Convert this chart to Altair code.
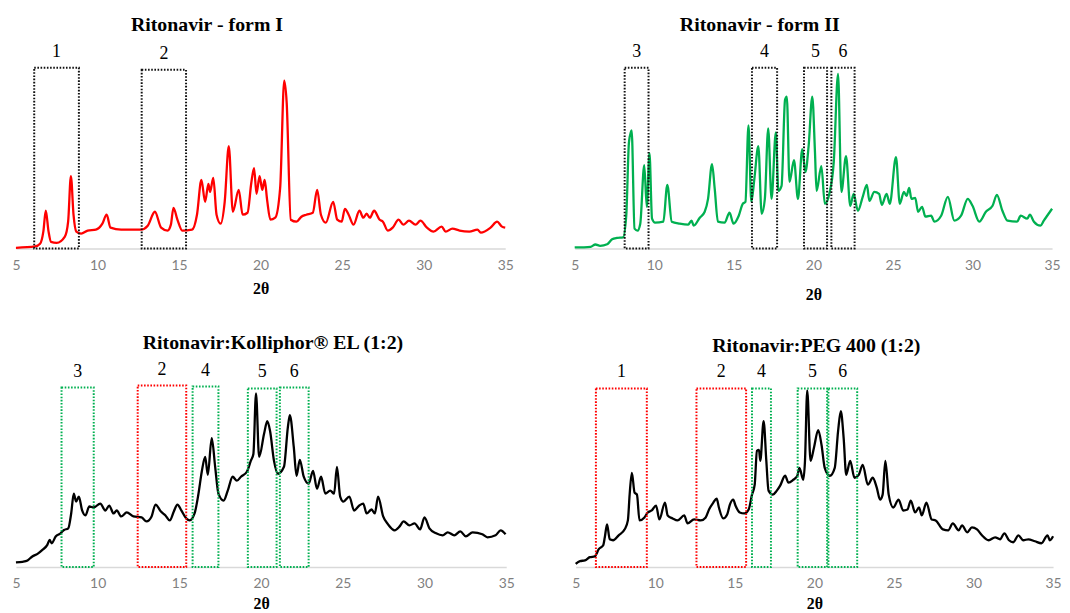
import altair as alt
import pandas as pd

# ---------------- data (2θ, intensity in arbitrary units) ----------------
form1_t = [5.0, 6.18, 6.48, 6.68, 6.83, 7.0, 7.15, 7.5, 8.0, 8.2, 8.37, 8.53, 8.7, 9.0, 9.4, 9.9,
           10.3, 10.56, 10.8, 11.45, 12.67, 13.08, 13.52, 13.9, 14.3, 14.5, 14.66, 14.9, 15.2, 15.8,
           16.1, 16.37, 16.6, 16.8, 16.9, 17.1, 17.3, 17.55, 17.8, 18.05, 18.3, 18.66, 18.9, 19.2,
           19.43, 19.6, 19.75, 19.94, 20.1, 20.25, 20.4, 20.6, 20.9, 21.2, 21.45, 21.6, 21.85, 22.2,
           22.5, 22.8, 23.2, 23.47, 23.7, 24.0, 24.45, 24.7, 24.97, 25.17, 25.4, 25.7, 26.06, 26.3,
           26.5, 26.7, 26.96, 27.3, 27.5, 27.8, 28.1, 28.46, 28.75, 29.1, 29.5, 29.8, 30.2, 30.6,
           31.1, 31.35, 31.76, 32.2, 32.8, 33.3, 33.5, 34.1, 34.5, 34.8, 35.0]
form1_i = [0.7, 2, 4.7, 17, 38, 17, 6.7, 5.7, 12, 27, 73, 34, 17, 15, 18, 19,
           25, 34, 21, 19, 19, 23, 37, 21, 18, 24, 41, 29, 18, 19,
           34, 69, 47, 65, 57, 71, 34, 25, 47, 103, 37, 59, 34, 36,
           66, 81, 55, 73, 59, 69, 49, 29, 31, 61, 169, 147, 29, 27,
           32, 34, 36, 59, 34, 26, 47, 29, 27, 40, 34, 24, 38, 31,
           35, 31, 38, 29, 27, 18, 21, 29, 24, 28, 24, 28, 21, 17,
           22, 17, 20, 18, 17, 19, 16, 21, 27, 22, 21]

form2_t = [5.0, 6.0, 6.3, 6.6, 7.04, 7.35, 7.66, 8.04, 8.24, 8.41, 8.58, 8.76, 8.95, 9.12, 9.37,
           9.53, 9.7, 9.86, 10.05, 10.57, 10.82, 11.1, 11.6, 12.13, 12.34, 12.48, 12.86, 13.17,
           13.38, 13.63, 13.8, 14.0, 14.42, 14.73, 14.98, 15.31, 15.56, 15.73, 15.92, 16.1, 16.29,
           16.54, 16.75, 16.95, 17.16, 17.37, 17.64, 17.8, 18.0, 18.22, 18.33, 18.5, 18.78, 19.03,
           19.3, 19.5, 19.7, 19.93, 20.1, 20.2, 20.5, 20.72, 21.0, 21.28, 21.55, 21.76, 22.05,
           22.32, 22.53, 22.8, 23.1, 23.36, 23.52, 23.83, 24.13, 24.3, 24.6, 24.8, 25.19, 25.43,
           25.69, 25.85, 26.02, 26.16, 26.4, 26.58, 26.83, 27.04, 27.4, 27.6, 28.03, 28.45, 28.86,
           29.28, 29.7, 30.0, 30.43, 30.84, 31.26, 31.53, 31.88, 32.2, 32.8, 33.03, 33.44, 33.6,
           33.86, 34.27, 34.48, 35.0]
form2_i = [1, 1.7, 4, 2.7, 4.3, 9.3, 10.7, 11.3, 33, 107, 119, 20, 18, 25, 84,
           42, 96, 30, 26, 27, 64, 27, 25, 24, 28, 23, 31, 37,
           50, 85, 60, 27, 26, 36, 25, 33, 45, 47, 124, 47, 70,
           103, 35, 50, 121, 50, 117, 58, 63, 150, 153, 67, 89, 50,
           100, 77, 103, 153, 97, 58, 83, 45, 55, 87, 176, 57, 93,
           43, 55, 38, 52, 64, 48, 57, 55, 44, 55, 45, 92, 45,
           57, 53, 61, 50, 51, 37, 42, 32, 33, 27, 33, 52, 28,
           33, 50, 43, 27, 37, 43, 54, 38, 28, 27, 33, 30, 34,
           27, 23, 28, 40]

koll_t = [5.0, 5.4, 5.71, 6.0, 6.32, 6.62, 6.92, 7.06, 7.19, 7.43, 7.73, 7.94, 8.2, 8.38, 8.54,
          8.68, 8.85, 9.05, 9.25, 9.49, 9.76, 10.16, 10.47, 10.71, 10.97, 11.17, 11.44, 11.78,
          12.19, 12.69, 12.99, 13.3, 13.54, 13.87, 14.15, 14.41, 14.66, 14.88, 15.12, 15.42, 15.63,
          15.93, 16.17, 16.37, 16.58, 16.74, 16.98, 17.19, 17.39, 17.71, 17.96, 18.26, 18.52,
          18.77, 19.13, 19.37, 19.53, 19.69, 19.88, 20.18, 20.38, 20.55, 20.79, 21.03, 21.4,
          21.64, 21.76, 22.0, 22.17, 22.37, 22.61, 22.91, 23.18, 23.42, 23.67, 23.93, 24.23,
          24.47, 24.64, 24.84, 25.04, 25.4, 25.69, 26.01, 26.25, 26.46, 26.76, 26.96, 27.16,
          27.47, 27.77, 28.17, 28.48, 28.72, 29.08, 29.39, 29.73, 30.0, 30.3, 30.71, 31.11,
          31.42, 31.82, 32.19, 32.53, 32.94, 33.54, 33.85, 34.35, 34.66, 34.96]
koll_i = [4.7, 5.3, 6.7, 10.7, 13.3, 17.3, 22.3, 27.3, 24, 30.7, 34, 37.3, 39, 54, 74,
          66, 71, 57, 52, 61, 60, 64, 57, 62, 54, 57, 51, 55,
          51, 50, 46, 51, 63, 56, 52, 47, 56, 63, 57, 49, 47,
          54, 74, 96, 111, 93, 130, 101, 74, 67, 77, 91, 87,
          91, 96, 107, 114, 175, 111, 134, 147, 137, 107, 94, 101,
          141, 153, 121, 92, 108, 91, 84, 97, 79, 91, 74, 77,
          74, 101, 71, 66, 71, 57, 62, 64, 54, 58, 54, 71,
          51, 43, 37, 41, 46, 42, 44, 38, 50, 39, 34, 32,
          35, 32, 36, 31, 35, 33, 30, 32, 37, 33]

peg_t = [5.0, 5.27, 5.58, 5.89, 6.2, 6.45, 6.73, 6.83, 6.97, 7.14, 7.35, 7.7, 8.08, 8.28, 8.39,
         8.53, 8.7, 8.85, 9.01, 9.32, 9.53, 9.78, 10.05, 10.26, 10.61, 10.78, 11.09, 11.4, 11.82,
         12.03, 12.44, 12.86, 13.17, 13.38, 13.65, 13.86, 14.0, 14.27, 14.52, 14.69, 14.9, 15.04,
         15.31, 15.6, 15.87, 16.08, 16.25, 16.39, 16.52, 16.6, 16.81, 16.98, 17.12, 17.39, 17.64,
         17.85, 18.16, 18.37, 18.68, 18.93, 19.06, 19.3, 19.41, 19.55, 19.76, 19.97, 20.24,
         20.45, 20.65, 20.97, 21.28, 21.49, 21.66, 21.84, 22.0, 22.25, 22.52, 22.79, 23.04,
         23.36, 23.67, 23.92, 24.13, 24.29, 24.46, 24.67, 24.96, 25.29, 25.58, 25.85, 26.06,
         26.33, 26.58, 26.75, 27.04, 27.37, 27.62, 28.08, 28.41, 28.7, 29.07, 29.28, 29.6, 29.9,
         30.22, 30.53, 30.95, 31.36, 31.67, 31.94, 32.23, 32.5, 32.82, 33.13, 33.44, 33.86,
         34.27, 34.65, 34.8, 35.0]
peg_i = [3.3, 6, 6.7, 10, 10.7, 18, 22, 30, 43, 28, 27, 32, 38, 47, 73,
         95, 75, 73, 47, 50, 55, 57, 62, 48, 65, 52, 49, 47, 52,
         44, 48, 47, 50, 58, 65, 69, 60, 49, 53, 63, 68, 62,
         55, 54, 58, 73, 83, 117, 118, 107, 147, 107, 77, 73, 77,
         82, 92, 85, 88, 92, 100, 88, 107, 178, 107, 120, 138,
         123, 100, 92, 100, 137, 157, 130, 93, 107, 90, 93, 103,
         83, 90, 80, 68, 73, 107, 73, 60, 68, 57, 58, 67,
         55, 60, 52, 65, 48, 47, 38, 37, 44, 37, 42, 35, 40,
         38, 32, 27, 30, 28, 34, 27, 25, 32, 27, 28, 26,
         24, 32, 27, 31]

# highlighted regions (2θ ranges), their labels and which form they belong to
form1_box_lo = [6.12, 12.71]
form1_box_hi = [8.86, 15.43]
form1_box_top = [182, 180]
form1_box_lab = ["1", "2"]
form1_box_kind = ["ref", "ref"]

form2_box_lo = [8.14, 16.14, 19.41, 21.13]
form2_box_hi = [9.64, 17.72, 20.86, 22.59]
form2_box_top = [182, 182, 182, 182]
form2_box_lab = ["3", "4", "5", "6"]
form2_box_kind = ["ref", "ref", "ref", "ref"]

koll_box_lo = [7.79, 12.45, 15.81, 19.19, 21.15]
koll_box_hi = [9.76, 15.42, 17.39, 20.95, 22.91]
koll_box_top = [181, 183, 182, 180, 181]
koll_box_lab = ["3", "2", "4", "5", "6"]
koll_box_kind = ["II", "I", "II", "II", "II"]

peg_box_lo = [6.27, 12.59, 16.08, 18.95, 20.88]
peg_box_hi = [9.47, 15.71, 17.27, 20.8, 22.69]
peg_box_top = [180, 180, 180, 180, 180]
peg_box_lab = ["1", "2", "4", "5", "6"]
peg_box_kind = ["I", "I", "II", "II", "II"]

TICKS = [5, 10, 15, 20, 25, 30, 35]
RED = "#ff0000"
GREEN = "#00b050"

box_scale = alt.Scale(domain=["ref", "I", "II"], range=["#111111", RED, GREEN])


def panel(tt, ii, color, lo, hi, top, lab, kind, title, width, title_dx, xtitle_pad):
    line_df = pd.DataFrame({"t": tt, "i": ii})
    box_df = pd.DataFrame({"lo": lo, "hi": hi, "top": top, "lab": lab, "kind": kind})
    xsc = alt.Scale(domain=[5, 35], nice=False, zero=False)
    ysc = alt.Scale(domain=[0, 200], nice=False, zero=True)
    axis = alt.Axis(values=TICKS, format="d", grid=False, ticks=False, tickSize=0,
                    domainColor="#d9d9d9", domainWidth=1.5,
                    labelFont="Lato", labelFontSize=14, labelColor="#7f7f7f",
                    labelPadding=10, labelFlush=False,
                    title="2θ", titleFont="Liberation Serif", titleFontSize=16,
                    titleFontWeight="bold", titleColor="black", titlePadding=xtitle_pad)
    line = alt.Chart(line_df).mark_line(color=color, strokeWidth=2.3, interpolate="monotone").encode(
        x=alt.X("t:Q", scale=xsc, axis=axis),
        y=alt.Y("i:Q", scale=ysc, axis=None),
    )
    boxes = alt.Chart(box_df).mark_rect(fillOpacity=0, strokeWidth=2, strokeDash=[1.6, 1.6]).encode(
        x=alt.X("lo:Q", scale=xsc, axis=axis),
        x2="hi",
        y=alt.Y("top:Q", scale=ysc, axis=None),
        y2=alt.datum(0),
        stroke=alt.Stroke("kind:N", scale=box_scale, legend=None),
    )
    labels = alt.Chart(box_df).transform_calculate(
        mid="(datum.lo + datum.hi) / 2"
    ).mark_text(font="Liberation Serif", fontSize=18, color="black", dy=-16, baseline="middle").encode(
        x=alt.X("mid:Q", scale=xsc, axis=axis),
        y=alt.Y("top:Q", scale=ysc, axis=None),
        text="lab:N",
    )
    return alt.layer(line, boxes, labels).properties(
        width=width, height=200,
        title=alt.TitleParams(text=title, font="Liberation Serif", fontSize=20, fontWeight="bold",
                              color="black", anchor="middle", offset=8, dx=title_dx),
    )


p1 = panel(form1_t, form1_i, RED, form1_box_lo, form1_box_hi, form1_box_top, form1_box_lab,
           form1_box_kind, "Ritonavir - form I", 493, -54, 8)
p2 = panel(form2_t, form2_i, GREEN, form2_box_lo, form2_box_hi, form2_box_top, form2_box_lab,
           form2_box_kind, "Ritonavir - form II", 481, -54, 14)
p3 = panel(koll_t, koll_i, "black", koll_box_lo, koll_box_hi, koll_box_top, koll_box_lab,
           koll_box_kind, "Ritonavir:Kolliphor® EL (1:2)", 494, 12, 5)
p4 = panel(peg_t, peg_i, "black", peg_box_lo, peg_box_hi, peg_box_top, peg_box_lab,
           peg_box_kind, "Ritonavir:PEG 400 (1:2)", 481, 2, 5)

top_row = alt.hconcat(p1, p2, spacing=56)
bottom_row = alt.hconcat(p3, p4, spacing=56)

chart = alt.vconcat(top_row, bottom_row, spacing=30).properties(
    padding={"left": 3, "top": 4, "right": 0, "bottom": 0},
    background="white",
).configure_view(stroke=None)

chart.save("out.html", embed_options={"renderer": "svg", "actions": False})
